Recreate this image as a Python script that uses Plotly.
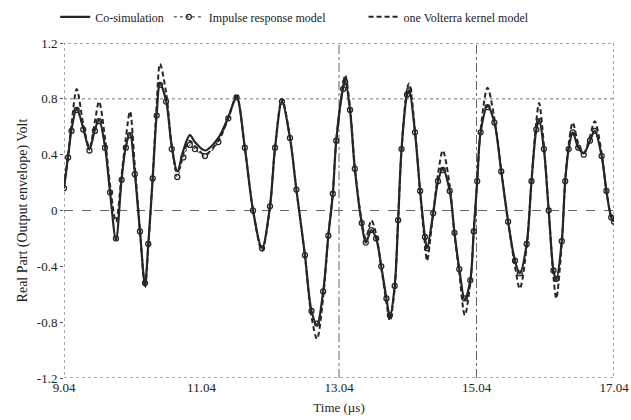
import plotly.graph_objects as go

# Time (µs) at read points
time_us = [9.04, 9.10, 9.15, 9.225, 9.32, 9.41, 9.49, 9.55, 9.636, 9.71,
           9.796, 9.879, 9.94, 10.00, 10.07, 10.145, 10.218, 10.266, 10.33, 10.388,
           10.436, 10.524, 10.607, 10.688, 10.776, 10.87, 10.945, 11.09, 11.285, 11.43,
           11.55, 11.67, 11.79, 11.92, 12.036, 12.11, 12.21, 12.327, 12.42, 12.545,
           12.64, 12.72, 12.81, 12.885, 12.95, 13.00, 13.10, 13.13, 13.20, 13.27,
           13.37, 13.43, 13.51, 13.58, 13.655, 13.73, 13.78, 13.85, 13.90, 13.95,
           14.03, 14.06, 14.145, 14.22, 14.29, 14.32, 14.41, 14.48, 14.55, 14.65,
           14.72, 14.79, 14.87, 14.95, 15.00, 15.05, 15.10, 15.20, 15.30, 15.40,
           15.50, 15.60, 15.67, 15.77, 15.84, 15.91, 15.95, 16.02, 16.09, 16.16,
           16.20, 16.28, 16.33, 16.38, 16.44, 16.52, 16.60, 16.69, 16.76, 16.86,
           16.93, 17.00, 17.04]

cosim = [0.16, 0.39, 0.58, 0.73, 0.59, 0.44, 0.58, 0.65, 0.46, 0.13,
         -0.21, 0.23, 0.46, 0.55, 0.27, -0.15, -0.53, -0.24, 0.23, 0.69,
         0.91, 0.79, 0.46, 0.28, 0.43, 0.54, 0.49, 0.43, 0.52, 0.67,
         0.81, 0.45, 0.00, -0.27, 0.03, 0.45, 0.78, 0.52, 0.15, -0.32,
         -0.72, -0.82, -0.58, -0.18, 0.12, 0.50, 0.88, 0.93, 0.72, 0.30,
         -0.09, -0.23, -0.14, -0.20, -0.40, -0.63, -0.76, -0.54, -0.07, 0.44,
         0.83, 0.86, 0.56, 0.14, -0.19, -0.27, -0.02, 0.21, 0.30, 0.14,
         -0.16, -0.42, -0.64, -0.50, -0.15, 0.21, 0.56, 0.75, 0.63, 0.28,
         -0.08, -0.36, -0.45, -0.24, 0.21, 0.58, 0.65, 0.44, 0.00, -0.43,
         -0.50, -0.22, 0.21, 0.44, 0.56, 0.45, 0.41, 0.50, 0.57, 0.39,
         0.14, -0.05, -0.08]

impulse = [0.16, 0.38, 0.57, 0.72, 0.58, 0.43, 0.57, 0.64, 0.45, 0.13,
           -0.20, 0.22, 0.45, 0.54, 0.26, -0.15, -0.52, -0.24, 0.23, 0.68,
           0.90, 0.78, 0.44, 0.24, 0.38, 0.47, 0.44, 0.39, 0.49, 0.66,
           0.81, 0.45, 0.00, -0.27, 0.03, 0.45, 0.78, 0.52, 0.15, -0.32,
           -0.72, -0.81, -0.58, -0.18, 0.12, 0.50, 0.87, 0.92, 0.72, 0.30,
           -0.09, -0.23, -0.14, -0.20, -0.40, -0.63, -0.75, -0.54, -0.07, 0.44,
           0.83, 0.86, 0.56, 0.14, -0.19, -0.27, -0.02, 0.21, 0.29, 0.14,
           -0.16, -0.42, -0.63, -0.50, -0.15, 0.21, 0.56, 0.74, 0.63, 0.28,
           -0.08, -0.36, -0.45, -0.24, 0.21, 0.58, 0.64, 0.44, 0.00, -0.43,
           -0.49, -0.22, 0.21, 0.44, 0.56, 0.45, 0.40, 0.50, 0.57, 0.39,
           0.14, -0.05, -0.08]

volterra = [0.17, 0.40, 0.62, 0.87, 0.62, 0.45, 0.64, 0.78, 0.52, 0.18,
            -0.08, 0.26, 0.52, 0.71, 0.32, -0.14, -0.55, -0.26, 0.24, 0.76,
            1.05, 0.85, 0.47, 0.27, 0.41, 0.50, 0.46, 0.40, 0.50, 0.66,
            0.82, 0.45, 0.00, -0.29, 0.03, 0.45, 0.80, 0.52, 0.15, -0.33,
            -0.76, -0.92, -0.62, -0.18, 0.12, 0.50, 0.90, 0.97, 0.74, 0.31,
            -0.08, -0.20, -0.07, -0.17, -0.41, -0.66, -0.79, -0.56, -0.07, 0.44,
            0.87, 0.91, 0.58, 0.13, -0.24, -0.36, -0.02, 0.26, 0.43, 0.18,
            -0.17, -0.45, -0.75, -0.52, -0.15, 0.21, 0.58, 0.88, 0.66, 0.29,
            -0.08, -0.40, -0.56, -0.26, 0.21, 0.64, 0.77, 0.47, 0.00, -0.48,
            -0.63, -0.24, 0.21, 0.47, 0.63, 0.48, 0.41, 0.53, 0.64, 0.41,
            0.14, -0.04, -0.06]

x_ticks = [9.04, 11.04, 13.04, 15.04, 17.04]
y_ticks = [-1.2, -0.8, -0.4, 0, 0.4, 0.8, 1.2]
y_tick_labels = ["-1.2", "-0.8", "-0.4", "0", "0.4", "0.8", "1.2"]

FONT = "Liberation Serif, Times New Roman, serif"
INK = "#262626"

fig = go.Figure()
fig.add_trace(go.Scatter(
    x=time_us, y=cosim, name="Co-simulation", mode="lines",
    line=dict(color=INK, width=2.2, shape="spline", smoothing=0.9)))
fig.add_trace(go.Scatter(
    x=time_us, y=impulse, name="Impulse response model" + "\u00a0" * 11,
    mode="lines+markers",
    line=dict(color=INK, width=1, dash="dot", shape="spline", smoothing=0.9),
    marker=dict(symbol="circle-open", size=5, color=INK, line=dict(width=1.3))))
fig.add_trace(go.Scatter(
    x=time_us, y=volterra, name="one Volterra kernel model", mode="lines",
    line=dict(color=INK, width=2, dash="5px,3px", shape="spline", smoothing=0.9)))

# reference lines and frame
shapes = [
    dict(type="rect", xref="x", yref="y", x0=9.04, x1=17.04, y0=-1.2, y1=1.2,
         line=dict(color="#555", width=1, dash="dot"), layer="below"),
    dict(type="line", xref="x", yref="y", x0=9.04, x1=17.04, y0=0.8, y1=0.8,
         line=dict(color="#777", width=1, dash="dot"), layer="below"),
    dict(type="line", xref="x", yref="y", x0=9.04, x1=17.04, y0=0, y1=0,
         line=dict(color="#666", width=1, dash="dash"), layer="below"),
    dict(type="line", xref="x", yref="y", x0=13.04, x1=13.04, y0=-1.2, y1=1.2,
         line=dict(color="#666", width=1, dash="dashdot"), layer="below"),
    dict(type="line", xref="x", yref="y", x0=15.04, x1=15.04, y0=-1.2, y1=1.2,
         line=dict(color="#666", width=1, dash="dashdot"), layer="below"),
]

fig.update_layout(
    width=631, height=420,
    margin=dict(l=64, r=17, t=43, b=42, autoexpand=False),
    paper_bgcolor="white", plot_bgcolor="white",
    font=dict(family=FONT, size=13, color="#222"),
    shapes=shapes,
    showlegend=True,
    hovermode=False,
    legend=dict(orientation="h", x=-0.016, xanchor="left", y=1.078, yanchor="middle",
                font=dict(family=FONT, size=12), bgcolor="rgba(0,0,0,0)",
                itemwidth=30, tracegroupgap=0),
    xaxis=dict(range=[9.04, 17.04], tickvals=x_ticks, ticktext=[f"{v:.2f}" for v in x_ticks],
               showgrid=False, zeroline=False, showline=False,
               ticks="", tickfont=dict(size=13),
               title=dict(text="Time (µs)", font=dict(size=13), standoff=8)),
    yaxis=dict(range=[-1.2, 1.2], tickvals=y_ticks, ticktext=y_tick_labels,
               showgrid=False, zeroline=False, showline=False,
               ticks="outside", ticklen=3, tickcolor="#555",
               tickfont=dict(size=13),
               title=dict(text="Real Part (Output envelope) Volt", font=dict(size=14), standoff=5)),
)

# remove the default 8px page margin so the 631x420 figure fills the window exactly
fig.write_html("out.html",
               config={"displayModeBar": False},
               post_script="document.body.style.margin='0';document.body.style.overflow='hidden';")
